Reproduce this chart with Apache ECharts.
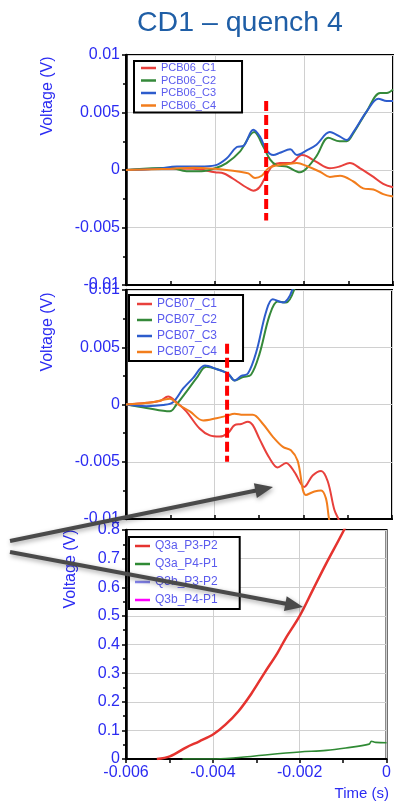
<!DOCTYPE html>
<html><head><meta charset="utf-8">
<script src="https://cdn.jsdelivr.net/npm/echarts@6.0.0/dist/echarts.min.js"></script>
<style>html,body{margin:0;padding:0;background:#fff}#c{width:394px;height:802px}</style>
</head><body><div id="c"></div>
<script>
// ---- data (time in s, voltage in V) ----
const pcb06Names = ['PCB06_C1','PCB06_C2','PCB06_C3','PCB06_C4'];
const pcb07Names = ['PCB07_C1','PCB07_C2','PCB07_C3','PCB07_C4'];
const q3Names = ['Q3a_P3-P2','Q3a_P4-P1','Q3b_P3-P2','Q3b_P4-P1'];
const xTicks = [-0.006, -0.004, -0.002, 0];

const pcb06_c1 = [[-0.006,0],[-0.005,0.0001],[-0.0045,0.0001],[-0.004,-0.0002],[-0.0038,-0.0003],[-0.0035,-0.001],[-0.0033,-0.0015],[-0.00314,-0.0018],[-0.003,-0.0015],[-0.00284,-0.0004],[-0.0027,0.0004],[-0.00254,0.0006],[-0.0023,0.0006],[-0.00205,0.0013],[-0.00194,0.0012],[-0.00172,0.0007],[-0.00142,0.00015],[-0.0012,0.0003],[-0.00097,0.0006],[-0.00074,0.00015],[-0.00044,-0.0006],[-0.00022,-0.0012],[0,-0.0015]];
const pcb06_c2 = [[-0.006,0],[-0.005,0.0002],[-0.00464,-0.0001],[-0.0043,-0.0001],[-0.004,0.00015],[-0.00374,0.0006],[-0.00344,0.0016],[-0.00312,0.0033],[-0.00291,0.002],[-0.00276,0.0009],[-0.00261,0.0004],[-0.00239,0.0003],[-0.00209,-0.0002],[-0.00194,0.00015],[-0.00172,0.0012],[-0.00145,0.0028],[-0.0012,0.0025],[-0.00104,0.0025],[-0.00089,0.0032],[-0.00059,0.0051],[-0.00029,0.0067],[-0.00014,0.0067],[0,0.007]];
const pcb06_c3 = [[-0.006,0],[-0.0053,0.0001],[-0.00486,0.0003],[-0.00434,0.0003],[-0.004,0.0004],[-0.00374,0.001],[-0.00351,0.002],[-0.00336,0.0021],[-0.00314,0.0035],[-0.00299,0.0029],[-0.00284,0.0017],[-0.00269,0.0013],[-0.00254,0.0015],[-0.00231,0.0018],[-0.00216,0.0013],[-0.00194,0.0017],[-0.00172,0.0022],[-0.00142,0.0033],[-0.00119,0.0029],[-0.00104,0.0026],[-0.00089,0.0033],[-0.00059,0.0051],[-0.00033,0.0062],[-0.00014,0.006],[0,0.006]];
const pcb06_c4 = [[-0.006,0],[-0.005,0.0001],[-0.0045,0.0002],[-0.004,0.0001],[-0.00344,-0.00015],[-0.00325,-0.0003],[-0.0031,-0.0007],[-0.00295,-0.0005],[-0.0028,0.00015],[-0.00261,0.0004],[-0.00239,0.0005],[-0.00216,0.0006],[-0.00194,0.00035],[-0.00164,-0.00015],[-0.00142,-0.0006],[-0.00119,-0.0005],[-0.00089,-0.001],[-0.00067,-0.0016],[-0.00044,-0.0017],[-0.00022,-0.0021],[0,-0.0023]];

const pcb07_c1 = [[-0.006,0],[-0.00554,0.00015],[-0.00524,0.0003],[-0.00505,0.0007],[-0.00486,0.0002],[-0.00464,-0.0006],[-0.00434,-0.0021],[-0.00411,-0.0027],[-0.00389,-0.0028],[-0.0037,-0.0025],[-0.00355,-0.0018],[-0.0034,-0.0017],[-0.00325,-0.0015],[-0.00314,-0.0018],[-0.00299,-0.003],[-0.00276,-0.0047],[-0.00258,-0.0055],[-0.00239,-0.0051],[-0.0022,-0.0059],[-0.00198,-0.0072],[-0.00179,-0.0062],[-0.0016,-0.0058],[-0.00145,-0.0067],[-0.0013,-0.0092],[-0.00119,-0.0102],[-0.0011,-0.012]];
const pcb07_c2 = [[-0.006,0],[-0.00554,-0.0003],[-0.00501,-0.0006],[-0.00486,0],[-0.00464,0.0011],[-0.00441,0.0023],[-0.00419,0.0033],[-0.00396,0.0031],[-0.0037,0.0027],[-0.00355,0.0021],[-0.00336,0.0024],[-0.00318,0.0026],[-0.00299,0.0044],[-0.00276,0.0078],[-0.00258,0.009],[-0.00239,0.0089],[-0.0022,0.0101],[-0.0021,0.012]];
const pcb07_c3 = [[-0.006,0],[-0.00554,-0.00015],[-0.00516,-0.00005],[-0.00494,0.0002],[-0.00471,0.0014],[-0.00449,0.0023],[-0.00422,0.0034],[-0.00396,0.0031],[-0.0037,0.0027],[-0.00355,0.0021],[-0.0034,0.0025],[-0.00325,0.0027],[-0.00306,0.0046],[-0.00284,0.0081],[-0.00269,0.0092],[-0.00246,0.0089],[-0.00235,0.0092],[-0.00224,0.0101],[-0.0021,0.012]];
const pcb07_c4 = [[-0.006,0],[-0.00539,0.0002],[-0.00501,0.0005],[-0.00482,0],[-0.00456,-0.0006],[-0.00426,-0.0014],[-0.00396,-0.0012],[-0.00374,-0.001],[-0.00355,-0.0008],[-0.00336,-0.0009],[-0.00314,-0.0009],[-0.00291,-0.0017],[-0.00269,-0.0028],[-0.00246,-0.0037],[-0.00228,-0.004],[-0.00213,-0.0049],[-0.00194,-0.0079],[-0.00175,-0.0076],[-0.0016,-0.0075],[-0.00149,-0.0082],[-0.00142,-0.01],[-0.0013,-0.012]];

const q3a_p3p2 = [[-0.00529,0],[-0.00499,0.009],[-0.00461,0.041],[-0.00431,0.062],[-0.00398,0.0875],[-0.00371,0.12],[-0.00341,0.167],[-0.00311,0.229],[-0.00281,0.301],[-0.00251,0.371],[-0.00233,0.42],[-0.002,0.5],[-0.0017,0.59],[-0.0014,0.68],[-0.00098,0.8],[-0.0008,0.86]];
const q3a_p4p1 = [[-0.0047,0],[-0.0041,0],[-0.0037,0.002],[-0.00334,0.006],[-0.00274,0.015],[-0.002,0.0245],[-0.00139,0.03],[-0.00094,0.0385],[-0.0004,0.052],[-0.00035,0.062],[-0.00025,0.058],[0,0.057]];
const q3b_p3p2 = [];
const q3b_p4p1 = [];

const quenchMark06 = [[-0.00285,0.006],[-0.00285,-0.0044]];
const quenchMark07 = [[-0.00372,0.0053],[-0.00372,-0.005]];

// ---- styling ----
const FONT = '"Liberation Sans", Arial, sans-serif';
const LBL = '#2b2bf2';
const COLS = ['#e8403c','#35893a','#2d5ccc','#f27d1c'];
const Q3COLS = ['#e5332f','#2f8a34','#8585f0','#ff00ff'];

const grids = [
  {left:126, top:55, width:267, height:230},
  {left:126, top:290, width:266, height:229},
  {left:126, top:530, width:265, height:229}
];

function xAx(i, showLabel){
  return {
    type:'value', gridIndex:i, min:-0.006, max:0, interval:0.002,
    axisLine:{show:true, onZero:false, lineStyle:{color:'#000', width:2}},
    axisTick:{show:true, inside:!showLabel, length:4, lineStyle:{color:'#000', width:1.5}},
    minorTick:{show:true, splitNumber:2, length:4, lineStyle:{color:'#000', width:1.5}},
    splitLine:{show:true, lineStyle:{color:'#d0d0d0', width:1}},
    axisLabel:{show:showLabel, color:LBL, fontFamily:FONT, fontSize:16, margin:6, hideOverlap:false,
      formatter: v => { const t = xTicks.find(k => Math.abs(k - v) < 1e-9); return t === undefined ? '' : String(t); }}
  };
}
function yAx(i, min, max, interval){
  return {
    type:'value', gridIndex:i, min:min, max:max, interval:interval,
    axisLine:{show:true, onZero:false, lineStyle:{color:'#000', width:2.5}},
    axisTick:{show:true, inside:false, length:4, lineStyle:{color:'#000', width:1.5}},
    minorTick:{show:true, splitNumber:2, length:3, lineStyle:{color:'#000', width:1.5}},
    splitLine:{show:true, lineStyle:{color:'#d0d0d0', width:1}},
    axisLabel:{color:LBL, fontFamily:FONT, fontSize:16, margin:6}
  };
}
function lineSeries(name, data, color, gi, width){
  return {name:name, type:'line', data:data, xAxisIndex:gi, yAxisIndex:gi,
    showSymbol:false, symbol:'none', smooth:0.35, clip:true,
    lineStyle:{color:color, width:width||2}, itemStyle:{color:color}, z:3};
}
function markSeries(data, gi){
  return {type:'line', data:data, xAxisIndex:gi, yAxisIndex:gi, showSymbol:false, symbol:'none',
    lineStyle:{color:'#ff0000', width:4, type:[10,4]}, z:5, silent:true};
}
function legend(names, left, top, fs, gap, padding, rowH){
  return {show:true, data:names, orient:'vertical', left:left, top:top,
    icon:'rect', itemWidth:15, itemHeight:2.5, itemGap:gap,
    backgroundColor:'#fff', borderColor:'#000', borderWidth:2, borderRadius:0,
    padding:padding, selectedMode:false,
    textStyle:{color:'#5b5bee', fontFamily:FONT, fontSize:fs, lineHeight:rowH, padding:[0,0,0,0]}};
}
function arrow(x1,y1,x2,y2){
  const dx=x2-x1, dy=y2-y1, L=Math.hypot(dx,dy), ux=dx/L, uy=dy/L, nx=-uy, ny=ux;
  const hl=18, hw=7.5, bx=x2-ux*hl, by=y2-uy*hl;
  const st={fill:'#4a4a4a', shadowBlur:5, shadowColor:'rgba(0,0,0,0.35)', shadowOffsetX:1, shadowOffsetY:2};
  return [
    {type:'line', z:100, shape:{x1:x1,y1:y1,x2:bx+ux*2,y2:by+uy*2},
     style:{stroke:'#4a4a4a', lineWidth:4, shadowBlur:5, shadowColor:'rgba(0,0,0,0.35)', shadowOffsetX:1, shadowOffsetY:2}},
    {type:'polygon', z:100, shape:{points:[[x2,y2],[bx+nx*hw,by+ny*hw],[bx-nx*hw,by-ny*hw]]}, style:st}
  ];
}
function yName(x,y){
  return {type:'text', x:x, y:y, rotation:Math.PI/2, z:50,
    style:{text:'Voltage (V)', fill:LBL, font:'16px '+FONT, textAlign:'center', textVerticalAlign:'middle'}};
}

const series = [];
[pcb06_c1,pcb06_c2,pcb06_c3,pcb06_c4].forEach((d,i)=>series.push(lineSeries(pcb06Names[i], d, COLS[i], 0)));
series.push(markSeries(quenchMark06, 0));
[pcb07_c1,pcb07_c2,pcb07_c3,pcb07_c4].forEach((d,i)=>series.push(lineSeries(pcb07Names[i], d, COLS[i], 1)));
series.push(markSeries(quenchMark07, 1));
[q3a_p3p2,q3a_p4p1,q3b_p3p2,q3b_p4p1].forEach((d,i)=>series.push(lineSeries(q3Names[i], d, Q3COLS[i], 2, i===0?2.5:1.6)));

const chart = echarts.init(document.getElementById('c'), null, {renderer:'canvas'});
chart.setOption({
  animation:false,
  backgroundColor:'#fff',
  title:{text:'CD1 \u2013 quench 4', left:132, top:4,
    textStyle:{color:'#1f5ea6', fontFamily:FONT, fontSize:28.5, fontWeight:'normal'}},
  grid: grids.map(g => Object.assign({show:true, borderColor:'#000', borderWidth:2, backgroundColor:'#fff', containLabel:false}, g)),
  xAxis:[xAx(0,false), xAx(1,false), xAx(2,true)],
  yAxis:[yAx(0,-0.01,0.01,0.005), yAx(1,-0.01,0.01,0.005), yAx(2,0,0.8,0.1)],
  legend:[
    legend(pcb06Names, 134, 61, 11, 0.5, [1,26,1,7], 12),
    legend(pcb07Names, 129, 295, 12, 2, [2,26,2,8], 14),
    legend(q3Names, 129, 537, 12, 4, [2,22,2,6], 14)
  ],
  series: series,
  graphic:[
    yName(48,96), yName(48,332), yName(71,569),
    {type:'text', x:389, y:794, z:50, style:{text:'Time (s)', fill:LBL, font:'15px '+FONT, textAlign:'right', textVerticalAlign:'middle'}},
    ...arrow(10,541,273,487),
    ...arrow(10,552,303,607)
  ]
});
</script></body></html>
